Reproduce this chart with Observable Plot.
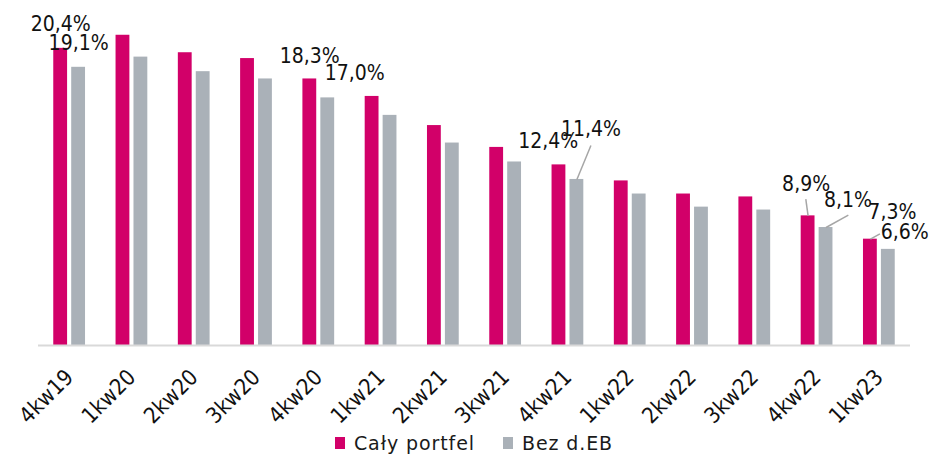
<!DOCTYPE html>
<html>
<head>
<meta charset="utf-8">
<script src="https://cdn.jsdelivr.net/npm/d3@7"></script>
<script src="https://cdn.jsdelivr.net/npm/@observablehq/plot@0.6"></script>
<style>
  html, body { margin: 0; padding: 0; background: #fff; }
  #chart { width: 930px; }
  .legend { display: flex; justify-content: center; align-items: center; gap: 0; padding-left: 38px; padding-right: 20px; height: 25px;
    font-family: "DejaVu Sans", sans-serif; font-size: 19px; letter-spacing: 0.9px; color: #1a1a1a; }
  .legend .sw { width: 10px; height: 12px; display: inline-block; margin-right: 9px; }
  .legend .item { display: flex; align-items: center; margin: 0 14px; }
</style>
</head>
<body>
<div id="chart"></div>
<script>
// ---- data ----
const categories = ["4kw19","1kw20","2kw20","3kw20","4kw20","1kw21","2kw21","3kw21","4kw21","1kw22","2kw22","3kw22","4kw22","1kw23"];
const seriesNames = ["Cały portfel", "Bez d.EB"];
const calyPortfel = [20.4, 21.3, 20.1, 19.7, 18.3, 17.1, 15.1, 13.6, 12.4, 11.3, 10.4, 10.2, 8.9, 7.3];
const bezDEB      = [19.1, 19.8, 18.8, 18.3, 17.0, 15.8, 13.9, 12.6, 11.4, 10.4,  9.5,  9.3, 8.1, 6.6];
const colors = ["#D20069", "#AAB1B8"];

// which bars carry a value label: [category index, series index]
const labelled = [[0,0],[0,1],[4,0],[4,1],[8,0],[8,1],[12,0],[12,1],[13,0],[13,1]];
// label placement (annotation layout, in axis units relative to the bar top)
const labelDx =   [0, 0, 0, 0.433, -0.172, 0.225, -0.032, 0.353, 0.353, 0.265];
const labelDy =   [1.19, 1.17, 1.12, 1.22, 1.19, 2.95, 1.72, 1.42, 1.40, 0.73];
// leader lines (index into labelled, start offset relative to bar top)
const leaderOf =  [5, 6, 7, 8];
const leaderDx =  [0.225, -0.037, 0.358, 0.153];
const leaderDy =  [2.33, 1.15, 0.85, 0.37];

// ---- build table ----
const seriesValues = [calyPortfel, bezDEB];
const barHalfLo = 0.033, barHalfHi = 0.255;
const rows = [];
categories.forEach((c, i) => {
  seriesValues.forEach((vals, s) => {
    rows.push({i, cat: c, s, series: seriesNames[s], value: vals[i]});
  });
});
const barCenter = d => d.i + (d.s === 0 ? -1 : 1) * (barHalfLo + barHalfHi) / 2;
const labels = labelled.map(([i, s], k) => {
  const d = rows.find(r => r.i === i && r.s === s);
  return {...d, lx: barCenter(d) + labelDx[k], ly: d.value + labelDy[k],
          text: d.value.toFixed(1).replace(".", ",") + "%"};
});
const leaders = leaderOf.map((k, j) => {
  const d = labels[k];
  return {x1: barCenter(d) + leaderDx[j], y1: d.value + leaderDy[j], x2: barCenter(d), y2: d.value};
});

const chart = Plot.plot({
  width: 930,
  height: 430,
  marginLeft: 38,
  marginRight: 20,
  marginTop: 10,
  marginBottom: 85,
  style: {fontFamily: "'Liberation Sans Narrow', 'DejaVu Sans Condensed', sans-serif", fontSize: "22px", color: "#111", background: "#fff"},
  x: {domain: [-0.5, categories.length - 0.5], ticks: d3.range(categories.length), tickFormat: i => categories[i],
      tickRotate: -45, tickSize: 0, tickPadding: 28, label: null, line: false},
  y: {domain: [0, 23], axis: null},
  color: {domain: seriesNames, range: colors},
  marks: [
    Plot.rectY(rows, {
      x1: d => d.i + (d.s === 0 ? -barHalfHi : barHalfLo),
      x2: d => d.i + (d.s === 0 ? -barHalfLo : barHalfHi),
      y: "value",
      fill: "series"
    }),
    Plot.ruleY([0], {stroke: "#D9D9D9", strokeWidth: 2}),
    Plot.link(leaders, {x1: "x1", y1: "y1", x2: "x2", y2: "y2", stroke: "#A6A6A6", strokeWidth: 1.5}),
    Plot.text(labels, {x: "lx", y: "ly", text: "text", fontSize: 21, textAnchor: "middle", lineAnchor: "bottom", fill: "#111"})
  ]
});
document.getElementById("chart").appendChild(chart);

const legend = document.createElement("div");
legend.className = "legend";
seriesNames.forEach((name, s) => {
  const item = document.createElement("span");
  item.className = "item";
  const sw = document.createElement("span");
  sw.className = "sw";
  sw.style.background = colors[s];
  item.appendChild(sw);
  item.appendChild(document.createTextNode(name));
  legend.appendChild(item);
});
document.getElementById("chart").appendChild(legend);
</script>
</body>
</html>
